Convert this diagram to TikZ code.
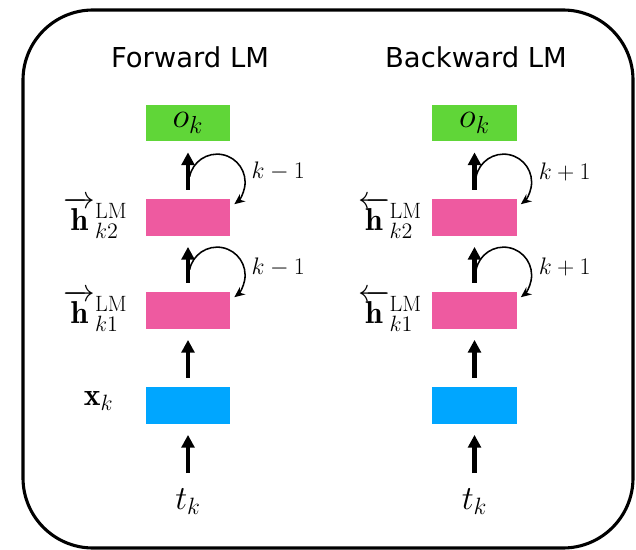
\RequirePackage{fix-cm}
\documentclass[tikz,border=0pt]{standalone}
\usepackage{amsmath}
\usepackage{fontspec}
\newfontfamily\titlefont{DejaVu Sans}
\usetikzlibrary{arrows.meta,positioning}

\definecolor{outgreen}{RGB}{96,214,56}
\definecolor{hidpink}{RGB}{238,90,160}
\definecolor{inblue}{RGB}{0,166,255}

\newcommand*{\colF}{188}
\newcommand*{\colB}{474.5}

\begin{document}
\begin{tikzpicture}
[
	x=0.025cm,
	y=-0.025cm,
	box/.style={minimum width=2.1cm,minimum height=0.92cm,inner sep=0pt},
	up/.style={-{Triangle[length=9pt,width=9pt]},line width=2.9pt,shorten <=6.4pt,shorten >=7.6pt},
	recur/.style={-{Stealth[length=7.5pt,width=6.5pt]},line width=1.1pt},
	title/.style={font=\titlefont\fontsize{19.5}{23}\selectfont,anchor=base},
	lbl/.style={font=\fontsize{17}{20}\selectfont},
	hlbl/.style={font=\fontsize{22.5}{26}\selectfont,inner sep=0pt},
	tlbl/.style={font=\fontsize{24}{28}\selectfont,inner sep=0pt,anchor=north}
]
	\useasboundingbox (0,0) rectangle (636,550);

	% frame
	\draw[line width=2.2pt,rounded corners=1.75cm] (23,10) rectangle (633,548);

	% titles
	\node[title] (titleF) at (190,68) {Forward LM};
	\node[title] (titleB) at (476,68) {Backward LM};

	% forward column
	\node[box,fill=outgreen] (oF) at (\colF,123) {\fontsize{25}{28}\selectfont$o_k$};
	\node[box,fill=hidpink] (hF2) at (\colF,217.5) {};
	\node[box,fill=hidpink] (hF1) at (\colF,310.5) {};
	\node[box,fill=inblue] (xF) at (\colF,405.5) {};
	\node[tlbl] (tF) at (\colF,488) {$t_k$};

	\node[hlbl,left=0.45cm of hF2] (lhF2) {$\overrightarrow{\mathbf{h}}^{\mathrm{LM}}_{k2}$};
	\node[hlbl,left=0.45cm of hF1] (lhF1) {$\overrightarrow{\mathbf{h}}^{\mathrm{LM}}_{k1}$};
	\node[hlbl,left=0.8cm of xF,yshift=0.12cm] (lxF) {$\mathbf{x}_k$};

	\draw[up,shorten <=10.6pt] (tF) -- (xF);
	\draw[up] (xF) -- (hF1);
	\draw[up] (hF1) -- (hF2);
	\draw[up] (hF2) -- (oF);

	\draw[recur] ([xshift=0.04cm,yshift=0.55cm]hF2.north) arc[start angle=169,end angle=-52,radius=0.7cm];
	\node[lbl] (kF2) at ([xshift=1.2cm,yshift=0.68cm]hF2.north east) {$k-1$};
	\draw[recur] ([xshift=0.04cm,yshift=0.55cm]hF1.north) arc[start angle=169,end angle=-52,radius=0.7cm];
	\node[lbl] (kF1) at ([xshift=1.2cm,yshift=0.62cm]hF1.north east) {$k-1$};

	% backward column
	\node[box,fill=outgreen] (oB) at (\colB,123) {\fontsize{25}{28}\selectfont$o_k$};
	\node[box,fill=hidpink] (hB2) at (\colB,217.5) {};
	\node[box,fill=hidpink] (hB1) at (\colB,310.5) {};
	\node[box,fill=inblue] (xB) at (\colB,405.5) {};
	\node[tlbl] (tB) at (\colB,488) {$t_k$};

	\node[hlbl,left=0.25cm of hB2] (lhB2) {$\overleftarrow{\mathbf{h}}^{\mathrm{LM}}_{k2}$};
	\node[hlbl,left=0.25cm of hB1] (lhB1) {$\overleftarrow{\mathbf{h}}^{\mathrm{LM}}_{k1}$};

	\draw[up,shorten <=10.6pt] (tB) -- (xB);
	\draw[up] (xB) -- (hB1);
	\draw[up] (hB1) -- (hB2);
	\draw[up] (hB2) -- (oB);

	\draw[recur] ([xshift=0.04cm,yshift=0.55cm]hB2.north) arc[start angle=169,end angle=-52,radius=0.7cm];
	\node[lbl] (kB2) at ([xshift=1.2cm,yshift=0.68cm]hB2.north east) {$k+1$};
	\draw[recur] ([xshift=0.04cm,yshift=0.55cm]hB1.north) arc[start angle=169,end angle=-52,radius=0.7cm];
	\node[lbl] (kB1) at ([xshift=1.2cm,yshift=0.62cm]hB1.north east) {$k+1$};

\end{tikzpicture}
\end{document}
